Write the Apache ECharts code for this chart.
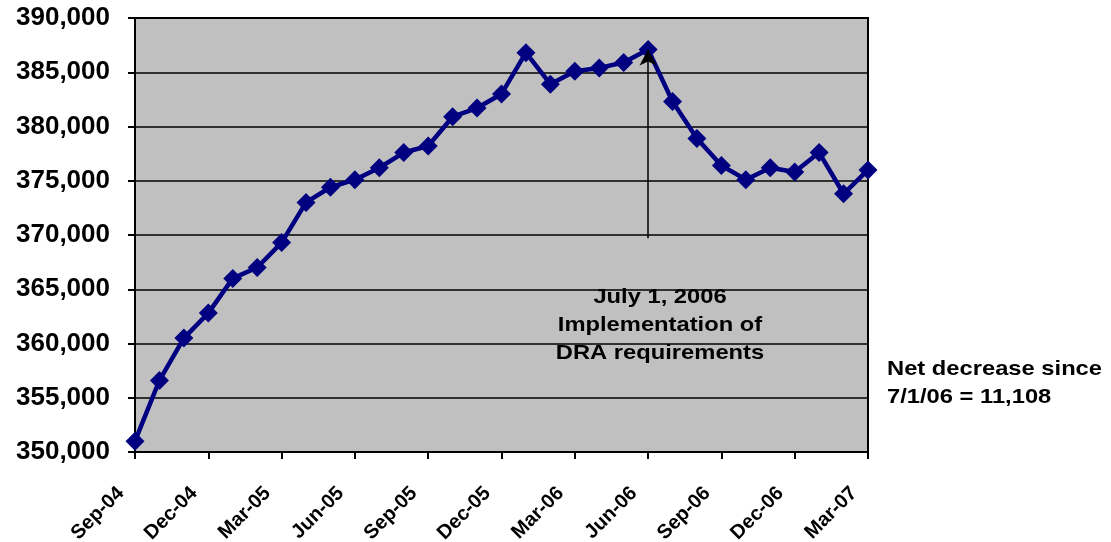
<!DOCTYPE html>
<html>
<head>
<meta charset="utf-8">
<script src="https://cdn.jsdelivr.net/npm/echarts@6/dist/echarts.min.js"></script>
<style>
  html, body { margin: 0; padding: 0; background: #fff; }
  #chart { width: 1111px; height: 542px; }
</style>
</head>
<body>
<div id="chart"></div>
<script>
// monthly categories
var months = ['Sep-04', 'Oct-04', 'Nov-04', 'Dec-04', 'Jan-05', 'Feb-05', 'Mar-05', 'Apr-05',
  'May-05', 'Jun-05', 'Jul-05', 'Aug-05', 'Sep-05', 'Oct-05', 'Nov-05', 'Dec-05', 'Jan-06',
  'Feb-06', 'Mar-06', 'Apr-06', 'May-06', 'Jun-06', 'Jul-06', 'Aug-06', 'Sep-06', 'Oct-06',
  'Nov-06', 'Dec-06', 'Jan-07', 'Feb-07', 'Mar-07'];

// values
var counts = [351000, 356600, 360500, 362800, 366000, 367000, 369300, 373000, 374400, 375100,
  376200, 377600, 378200, 380900, 381700, 383000, 386800, 383900, 385100, 385400,
  385900, 387100, 382300, 378900, 376400, 375100, 376200, 375800, 377600, 373800, 376000];

// arrow: from this value up to the Jun-06 point
var arrowIndex = 21;
var arrowFrom = 369700;

var noteText = 'July 1, 2006\nImplementation of\nDRA requirements';
var sideText = 'Net decrease since\n7/1/06 = 11,108';

var font = '"Liberation Sans", Arial, sans-serif';
var chart = echarts.init(document.getElementById('chart'));

chart.setOption({
  animation: false,
  grid: {
    left: 135,
    right: 243,
    top: 18,
    bottom: 90,
    outerBoundsMode: 'none',
    containLabel: false,
    show: true,
    backgroundColor: '#C0C0C0',
    borderColor: '#000',
    borderWidth: 2
  },
  xAxis: {
    type: 'category',
    data: months,
    boundaryGap: false,
    axisLine: { lineStyle: { color: '#000', width: 2 } },
    axisTick: { interval: 2, length: 7, lineStyle: { color: '#000', width: 2 } },
    axisLabel: {
      interval: 2,
      rotate: 45,
      margin: 24,
      padding: [0, 20, 0, 0],
      color: '#000',
      fontFamily: font,
      fontWeight: 'bold',
      fontSize: 20
    },
    splitLine: { show: false }
  },
  yAxis: {
    type: 'value',
    min: 350000,
    max: 390000,
    interval: 5000,
    axisLine: { show: true, lineStyle: { color: '#000', width: 2 } },
    axisTick: { show: true, length: 7, lineStyle: { color: '#000', width: 2 } },
    axisLabel: {
      margin: 25,
      color: '#000',
      fontFamily: font,
      fontWeight: 'bold',
      fontSize: 26,
      formatter: function (v) { return v.toLocaleString('en-US'); }
    },
    splitLine: { lineStyle: { color: '#000', width: 1.5 } }
  },
  series: [
    {
      type: 'line',
      data: counts,
      symbol: 'diamond',
      symbolSize: 19,
      showAllSymbol: true,
      itemStyle: { color: '#000080' },
      lineStyle: { color: '#000080', width: 4.5 },
      markLine: {
        silent: true,
        symbol: ['none', 'arrow'],
        symbolSize: [13, 16],
        label: { show: false },
        lineStyle: { color: '#000', width: 1.5, type: 'solid' },
        data: [
          [
            { coord: [arrowIndex, arrowFrom] },
            { coord: [arrowIndex, counts[arrowIndex]] }
          ]
        ]
      }
    }
  ],
  graphic: [
    {
      type: 'text',
      x: 660,
      y: 325,
      scaleX: 1.13,
      style: {
        text: noteText,
        align: 'center',
        verticalAlign: 'middle',
        lineHeight: 28,
        fontFamily: font,
        fontWeight: 'bold',
        fontSize: 21,
        fill: '#000'
      }
    },
    {
      type: 'text',
      x: 887,
      y: 383,
      scaleX: 1.13,
      style: {
        text: sideText,
        align: 'left',
        verticalAlign: 'middle',
        lineHeight: 28,
        fontFamily: font,
        fontWeight: 'bold',
        fontSize: 21,
        fill: '#000'
      }
    }
  ]
});
</script>
</body>
</html>
